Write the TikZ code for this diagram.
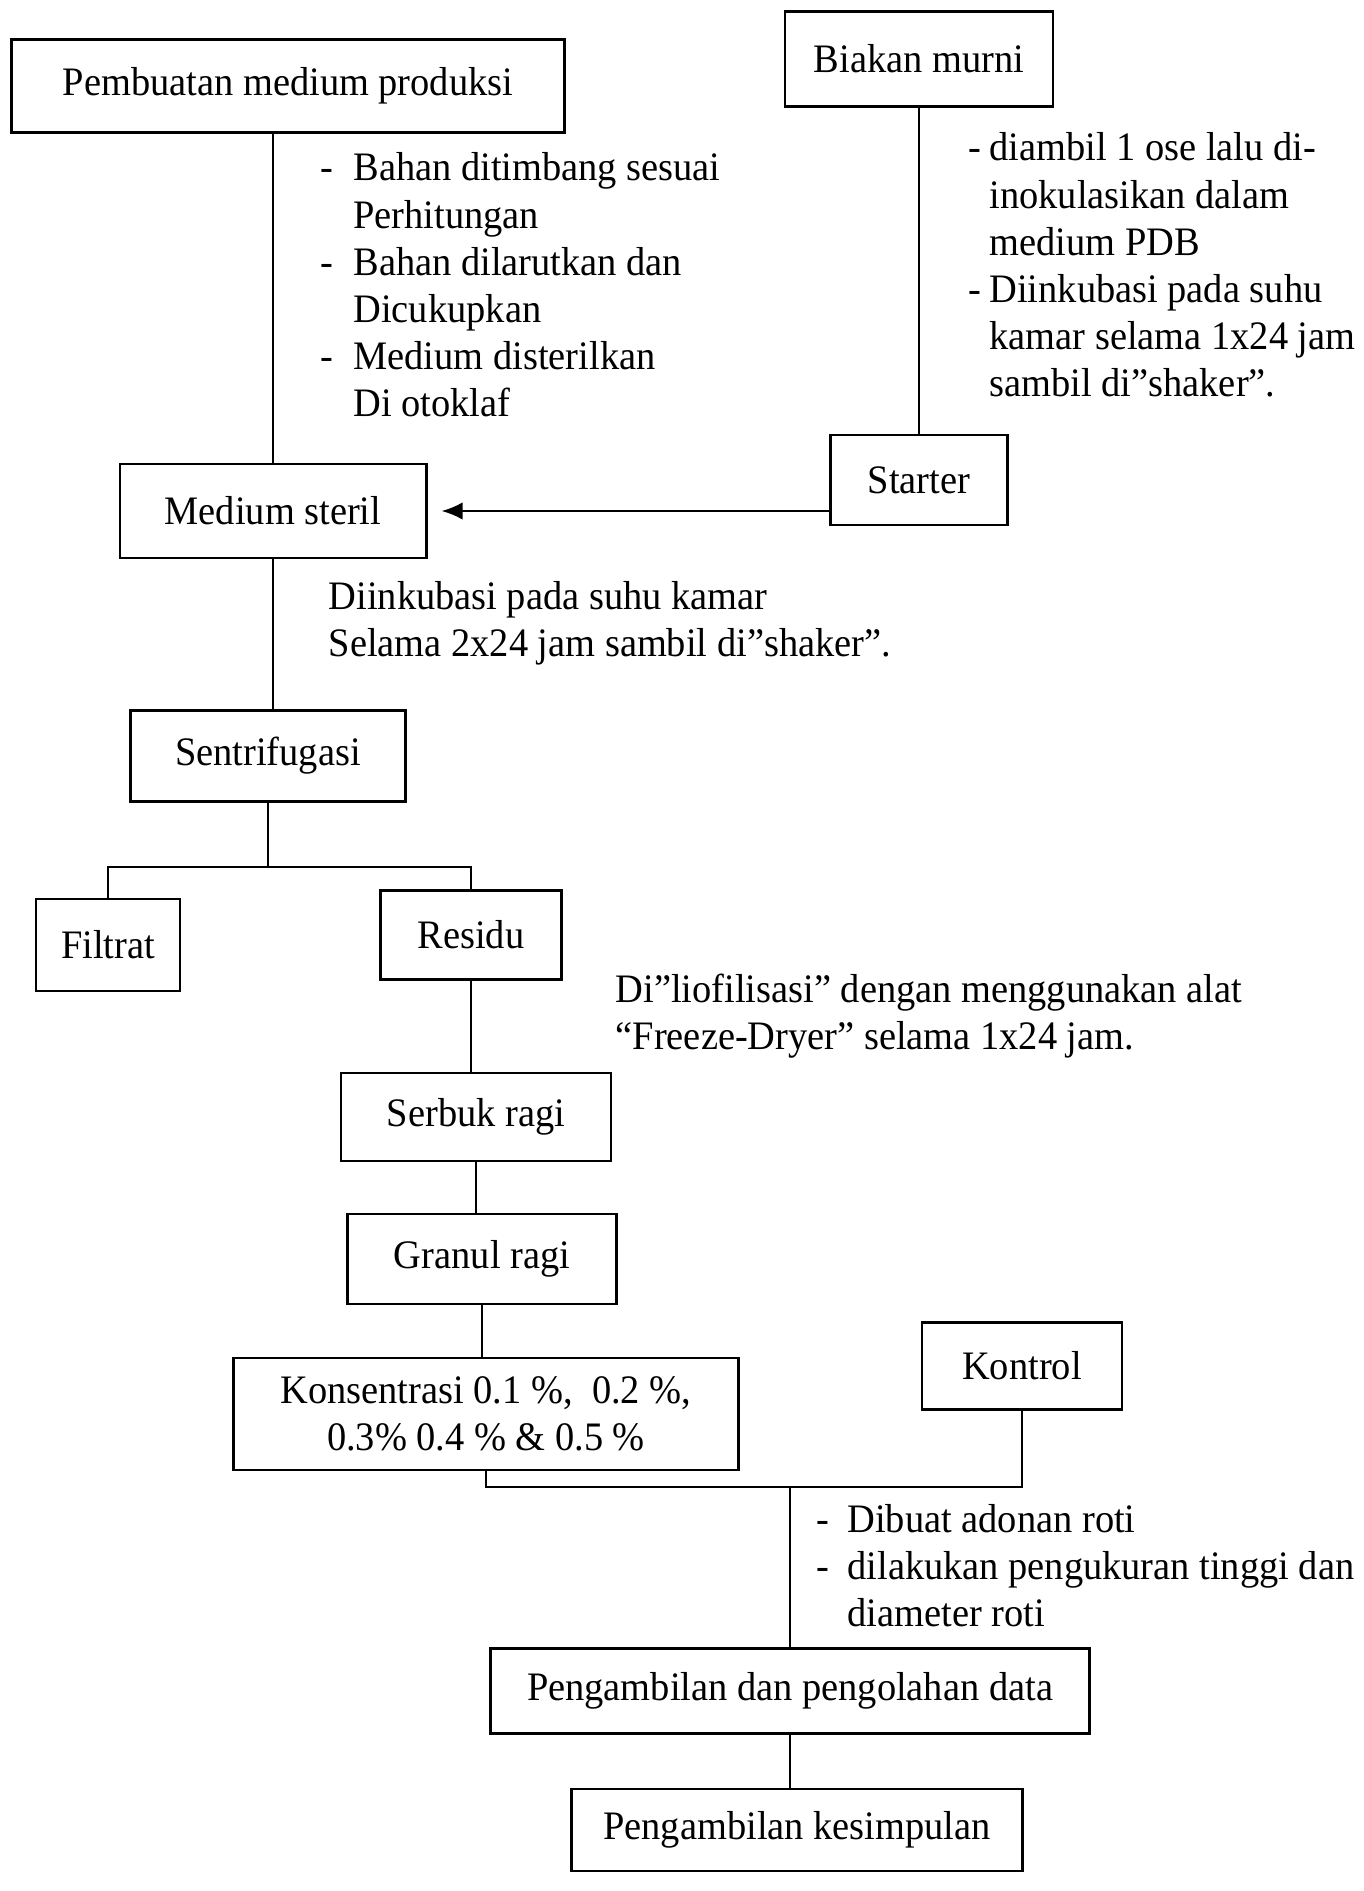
\documentclass[tikz,border=0pt]{standalone}
\usepackage{fontspec}
\setmainfont{Liberation Serif}[FakeStretch=0.95]
\usepackage{tikz}
\usetikzlibrary{arrows.meta}

\newcommand{\flowfont}{\fontsize{11.5}{13.4}\selectfont}

\begin{document}
\begin{tikzpicture}[x=0.01cm, y=-0.01cm,
    box/.style={draw, line width=0.8pt, align=center, font=\flowfont},
    note/.style={anchor=base west, inner sep=0pt, font=\flowfont},
    link/.style={line width=0.7pt},
    feed/.style={line width=0.7pt, -{Latex[length=6pt, width=5pt]}, shorten >=4pt}]

        % Page frame
        \useasboundingbox (0,0) rectangle (1363,1891);

        % Medium and starter
        \node[box, minimum width=5.53cm, minimum height=0.93cm] (prod) at (288,86) {Pembuatan medium produksi};
        \node[box, minimum width=2.68cm, minimum height=0.95cm] (biakan) at (919,59) {Biakan murni};
        \node[box, minimum width=1.77cm, minimum height=0.90cm] (starter) at (919,480) {Starter};
        \node[box, minimum width=3.06cm, minimum height=0.94cm] (steril) at (273,511) {Medium steril};

        % Steps written beside the lines
        \node[note] (stepsprod) at (320,181) {\begin{tabular}[t]{@{}l@{\hspace{0.2cm}}l@{}}
            - & Bahan ditimbang sesuai\\
              & Perhitungan\\
            - & Bahan dilarutkan dan\\
              & Dicukupkan\\
            - & Medium disterilkan\\
              & Di otoklaf
          \end{tabular}};
        \node[note] (stepsbiakan) at (968,161) {\begin{tabular}[t]{@{}l@{\hspace{0.08cm}}l@{}}
            - & diambil 1 ose lalu di-\\
              & inokulasikan dalam\\
              & medium PDB\\
            - & Diinkubasi pada suhu\\
              & kamar selama 1x24 jam\\
              & sambil di”shaker”.
          \end{tabular}};
        \node[note] (stepsinkub) at (328,609) {\begin{tabular}[t]{@{}l@{}}
            Diinkubasi pada suhu kamar\\
            Selama 2x24 jam sambil di”shaker”.
          \end{tabular}};

        % Harvest of the yeast
        \node[box, minimum width=2.75cm, minimum height=0.91cm] (sentri) at (268,756) {Sentrifugasi};
        \node[box, minimum width=1.44cm, minimum height=0.92cm] (filtrat) at (108,945) {Filtrat};
        \node[box, minimum width=1.81cm, minimum height=0.89cm] (residu) at (471,935) {Residu};
        \node[note] (stepsbeku) at (615,1002) {\begin{tabular}[t]{@{}l@{}}
            Di”liofilisasi” dengan menggunakan alat\\
            “Freeze-Dryer” selama 1x24 jam.
          \end{tabular}};
        \node[box, minimum width=2.70cm, minimum height=0.88cm] (serbuk) at (476,1117) {Serbuk ragi};
        \node[box, minimum width=2.69cm, minimum height=0.90cm] (granul) at (482,1259) {Granul ragi};

        % Bread test
        \node[box, minimum width=5.05cm, minimum height=1.12cm] (konsen) at (486,1414) {Konsentrasi 0.1 \%,~ 0.2 \%,\\ 0.3\% 0.4 \% \& 0.5 \%};
        \node[box, minimum width=2.00cm, minimum height=0.87cm] (kontrol) at (1022,1366) {Kontrol};
        \node[note] (stepsroti) at (816,1532) {\begin{tabular}[t]{@{}l@{\hspace{0.18cm}}l@{}}
            - & Dibuat adonan roti\\
            - & dilakukan pengukuran tinggi dan\\
              & diameter roti
          \end{tabular}};
        \node[box, minimum width=5.98cm, minimum height=0.85cm] (olah) at (790,1691) {Pengambilan dan pengolahan data};
        \node[box, minimum width=4.50cm, minimum height=0.82cm] (simpul) at (797,1830) {Pengambilan kesimpulan};

        % Connectors
        \draw[link] (prod.south -| steril.north) -- (steril.north);
        \draw[link] (biakan.south) -- (starter.north);
        \draw[feed] (starter.west |- steril.east) -- (steril.east);
        \draw[link] (steril.south) -- (steril.south |- sentri.north);
        \draw[link] (sentri.south) -- ++(0,64) coordinate (fork);
        \draw[link] (filtrat.north) |- (fork) -| (residu.north);
        \draw[link] (residu.south) -- (residu.south |- serbuk.north);
        \draw[link] (serbuk.south) -- (serbuk.south |- granul.north);
        \draw[link] (granul.south) -- (granul.south |- konsen.north);
        \coordinate (join) at (790,1487);
        \draw[link] (konsen.south) |- (join) -| (kontrol.south);
        \draw[link] (join) -- (olah.north);
        \draw[link] (olah.south) -- (olah.south |- simpul.north);

      \end{tikzpicture}
\end{document}
